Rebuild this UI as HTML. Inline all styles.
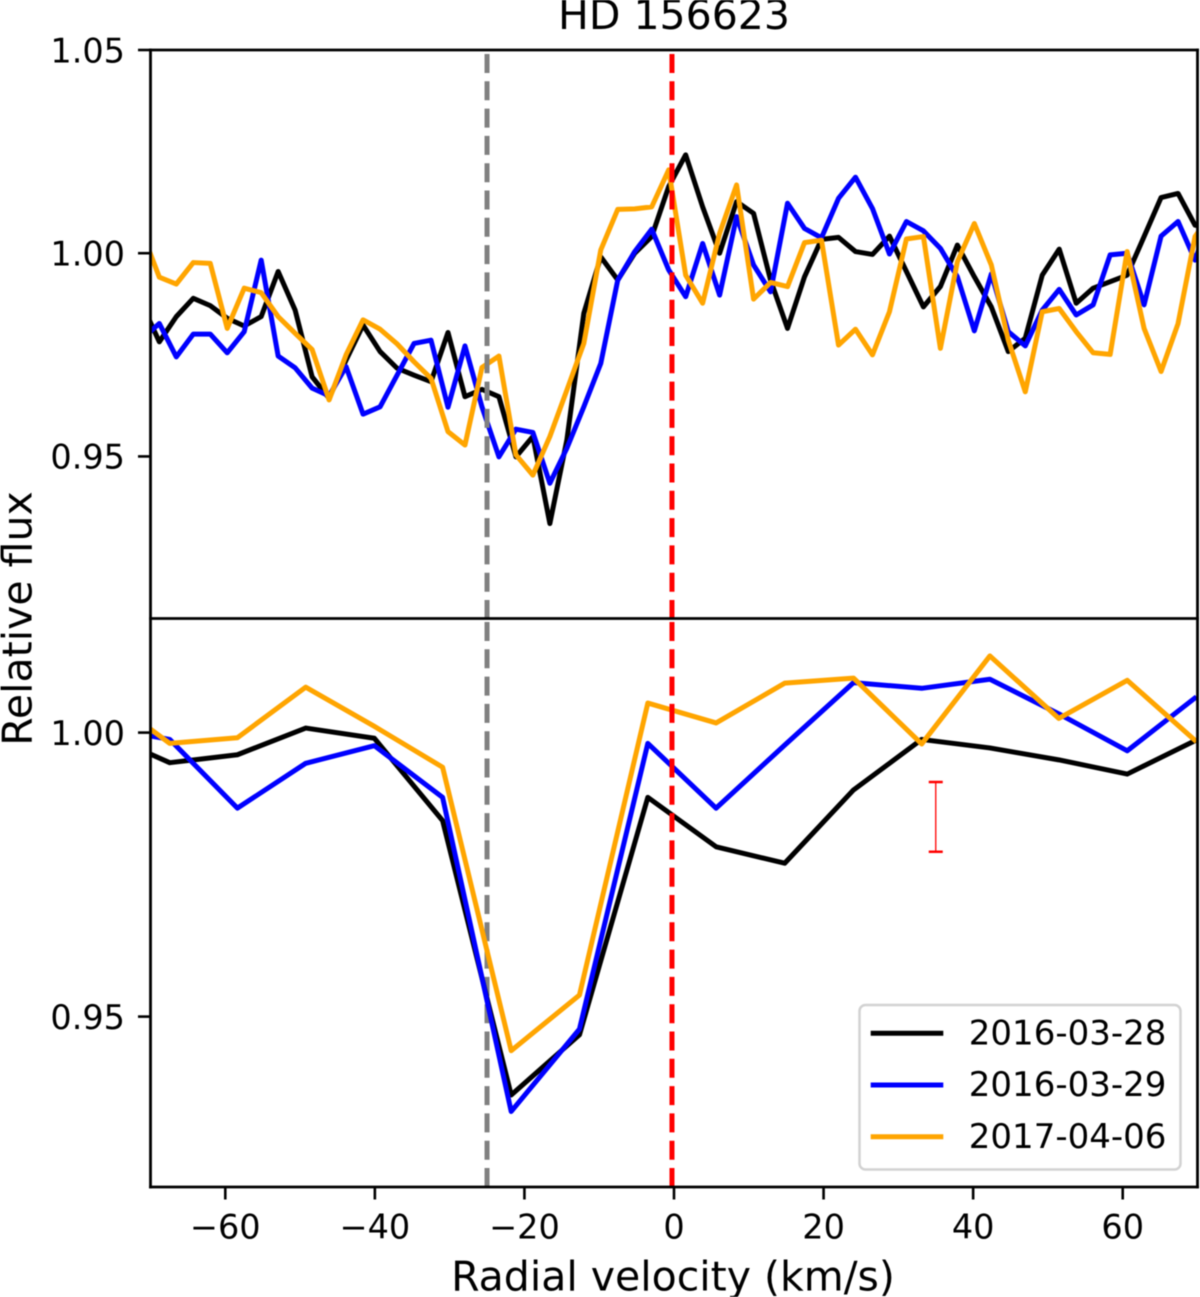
<!DOCTYPE html>
<html lang="en">
<head>
<meta charset="utf-8">
<title>HD 156623 relative flux</title>
<style>
  html, body { margin: 0; padding: 0; background: #fff; }
  svg { display: block; filter: blur(0.55px); }
  text { font-family: "DejaVu Sans", "Liberation Sans", sans-serif; fill: #000; }
  .tick-text { font-size: 33.5px; }
  .axis-text { font-size: 41px; }
  .legend-text { font-size: 34px; }
</style>
</head>
<body>
<svg id="chart" xmlns="http://www.w3.org/2000/svg" width="1200" height="1297" viewBox="0 0 1200 1297">
  <defs>
    <clipPath id="clip-top"><rect x="150.5" y="50" width="1047" height="569"></rect></clipPath>
    <clipPath id="clip-bottom"><rect x="150.5" y="619" width="1047" height="568"></rect></clipPath>
  </defs>
  <rect width="1200" height="1297" fill="#fff"></rect>
  <g id="top-panel" clip-path="url(#clip-top)"></g>
  <g id="bottom-panel" clip-path="url(#clip-bottom)"></g>
  <g id="axes"></g>
  <text class="axis-text" x="674" y="29" text-anchor="middle">HD 156623</text>
  <text class="axis-text" x="673" y="1290.5" text-anchor="middle">Radial velocity (km/s)</text>
  <text class="axis-text" transform="translate(31.5 618.5) rotate(-90)" text-anchor="middle">Relative flux</text>
  <g>
    <rect x="859.5" y="1005" width="321" height="164.5" rx="6" ry="6" fill="#fff" stroke="#d2d2d2" stroke-width="2.5"></rect>
    <line x1="870.7" y1="1033.3" x2="943.3" y2="1033.3" stroke="#000" stroke-width="5"></line>
    <text class="legend-text" x="968.8" y="1044.3">2016-03-28</text>
    <line x1="870.7" y1="1085" x2="943.3" y2="1085" stroke="#00f" stroke-width="5"></line>
    <text class="legend-text" x="968.8" y="1096">2016-03-29</text>
    <line x1="870.7" y1="1136.7" x2="943.3" y2="1136.7" stroke="#ffa500" stroke-width="5"></line>
    <text class="legend-text" x="968.8" y="1147.8">2017-04-06</text>
  </g>
</svg>
<script>
// ---- Top panel data ----
const topVelocity = [-71.09,-68.82,-66.55,-64.28,-62.01,-59.74,-57.47,-55.20,-52.93,-50.66,-48.39,-46.12,-43.85,-41.58,-39.30,-37.03,-34.76,-32.49,-30.22,-27.95,-25.68,-23.41,-21.14,-18.87,-16.60,-14.33,-12.06,-9.79,-7.52,-5.25,-2.98,-0.71,1.56,3.83,6.10,8.37,10.64,12.91,15.18,17.45,19.72,22.00,24.27,26.54,28.81,31.08,33.35,35.62,37.89,40.16,42.43,44.70,46.97,49.24,51.51,53.78,56.05,58.32,60.59,62.86,65.13,67.40,69.67,71.94];
const topBlack = [0.9873,0.9782,0.9844,0.9889,0.9871,0.9840,0.9821,0.9844,0.9955,0.9860,0.9696,0.9643,0.9737,0.9823,0.9758,0.9717,0.9700,0.9684,0.9805,0.9647,0.9665,0.9647,0.9499,0.9549,0.9335,0.9540,0.9852,0.9991,0.9934,1.0000,1.0041,1.0164,1.0242,1.0114,1.0000,1.0127,1.0098,0.9934,0.9815,0.9942,1.0034,1.0039,1.0004,0.9997,1.0042,0.9955,0.9868,0.9918,1.0020,0.9942,0.9868,0.9758,0.9791,0.9946,1.0010,0.9877,0.9914,0.9930,0.9946,1.0041,1.0137,1.0147,1.0069,1.0060];
const topBlue = [0.9790,0.9827,0.9745,0.9801,0.9801,0.9755,0.9807,0.9983,0.9747,0.9718,0.9668,0.9649,0.9721,0.9604,0.9622,0.9700,0.9778,0.9786,0.9621,0.9772,0.9622,0.9499,0.9567,0.9559,0.9434,0.9520,0.9622,0.9729,0.9934,1.0004,1.0059,0.9959,0.9893,1.0024,0.9897,1.0090,0.9971,0.9905,1.0123,1.0061,1.0038,1.0135,1.0187,1.0110,0.9998,1.0078,1.0055,1.0012,0.9942,0.9809,0.9949,0.9807,0.9772,0.9860,0.9911,0.9848,0.9873,0.9996,1.0000,0.9873,1.0042,1.0078,0.9983,1.0100];
const topOrange = [1.0050,0.9941,0.9924,0.9977,0.9975,0.9815,0.9914,0.9903,0.9844,0.9803,0.9763,0.9639,0.9750,0.9836,0.9813,0.9777,0.9733,0.9692,0.9561,0.9528,0.9719,0.9747,0.9504,0.9454,0.9549,0.9663,0.9778,1.0008,1.0108,1.0109,1.0114,1.0205,0.9946,0.9877,1.0049,1.0168,0.9887,0.9928,0.9918,1.0026,1.0032,0.9774,0.9813,0.9750,0.9856,1.0035,1.0041,0.9766,0.9979,1.0073,0.9971,0.9786,0.9659,0.9856,0.9864,0.9807,0.9755,0.9751,1.0004,0.9815,0.9709,0.9827,1.0041,1.0100];

// ---- Bottom panel data ----
const bottomVelocity = [-76.61,-67.43,-58.38,-49.24,-40.07,-30.94,-21.77,-12.64,-3.50,5.63,14.80,24.00,33.12,42.24,51.45,60.61,69.86];
const bottomBlack = [1.0001,0.9947,0.9961,1.0008,0.9990,0.9845,0.9362,0.9468,0.9886,0.9799,0.9770,0.9899,0.9988,0.9973,0.9952,0.9927,0.9987];
const bottomBlue = [1.0010,0.9988,0.9867,0.9946,0.9977,0.9886,0.9333,0.9478,0.9981,0.9867,0.9978,1.0088,1.0078,1.0094,1.0033,0.9968,1.0063];
const bottomOrange = [1.0071,0.9981,0.9991,1.0080,1.0011,0.9939,0.9440,0.9538,1.0052,1.0017,1.0087,1.0096,0.9980,1.0135,1.0025,1.0092,0.9984];

// ---- Reference lines and error bar ----
const grayLineVelocity = -25;
const redLineVelocity = -0.27;
const errorBarVelocity = 35;
const errorBarFlux = 0.98516;
const errorBarHalf = 0.00614;

// ---- Tick labels ----
const xTickValues = [-60,-40,-20,0,20,40,60];
const xTickLabels = ["\u221260","\u221240","\u221220","0","20","40","60"];
const topYTickValues = [1.05,1.00,0.95];
const topYTickLabels = ["1.05","1.00","0.95"];
const bottomYTickValues = [1.00,0.95];
const bottomYTickLabels = ["1.00","0.95"];

// ---- Axis functions ----
const NS = "http://www.w3.org/2000/svg";
const plotLeft = 150.5, plotRight = 1197.5;
const topTop = 50, topBottom = 619, bottomTop = 619, bottomBottom = 1187;
function xScale(v) { return plotLeft + (v + 70) / 140 * (plotRight - plotLeft); }
function yTop(f) { return topTop + (1.05 - f) / 0.14 * (topBottom - topTop); }
function yBottom(f) { return bottomTop + (1.02 - f) / 0.10 * (bottomBottom - bottomTop); }

function make(tag, parent) {
  const el = document.createElementNS(NS, tag);
  parent.appendChild(el);
  return el;
}
function drawSeries(parent, xs, ys, yFn, color) {
  const el = make("polyline", parent);
  el.setAttribute("points", xs.map(function (v, i) { return xScale(v).toFixed(2) + "," + yFn(ys[i]).toFixed(2); }).join(" "));
  el.setAttribute("fill", "none");
  el.setAttribute("stroke", color);
  el.setAttribute("stroke-width", "5");
  el.setAttribute("stroke-linejoin", "round");
  return el;
}
function drawVLine(parent, v, y0, y1, color) {
  const el = make("line", parent);
  el.setAttribute("x1", xScale(v));
  el.setAttribute("x2", xScale(v));
  el.setAttribute("y1", y0);
  el.setAttribute("y2", y1);
  el.setAttribute("stroke", color);
  el.setAttribute("stroke-width", "5");
  el.setAttribute("stroke-dasharray", "19 8.3");
  return el;
}
function drawRule(parent, x1, y1, x2, y2, width) {
  const el = make("line", parent);
  el.setAttribute("x1", x1);
  el.setAttribute("y1", y1);
  el.setAttribute("x2", x2);
  el.setAttribute("y2", y2);
  el.setAttribute("stroke", "#000");
  el.setAttribute("stroke-width", width);
  el.setAttribute("stroke-linecap", "square");
  return el;
}

const topPanel = document.getElementById("top-panel");
const bottomPanel = document.getElementById("bottom-panel");
const axes = document.getElementById("axes");

// Top panel series
let s;
s = drawSeries(topPanel, topVelocity, topBlack, yTop, "#000");


s = drawSeries(topPanel, topVelocity, topBlue, yTop, "#00f");


s = drawSeries(topPanel, topVelocity, topOrange, yTop, "#ffa500");


s = drawVLine(topPanel, grayLineVelocity, topBottom, topTop, "#808080");


s = drawVLine(topPanel, redLineVelocity, topBottom, topTop, "#f00");



// Bottom panel series
s = drawVLine(bottomPanel, grayLineVelocity, bottomBottom, bottomTop, "#808080");


s = drawSeries(bottomPanel, bottomVelocity, bottomBlack, yBottom, "#000");


s = drawSeries(bottomPanel, bottomVelocity, bottomBlue, yBottom, "#00f");


s = drawSeries(bottomPanel, bottomVelocity, bottomOrange, yBottom, "#ffa500");


s = drawVLine(bottomPanel, redLineVelocity, bottomBottom, bottomTop, "#f00");



// Error bar
const errGroup = make("g", bottomPanel);


const errX = xScale(errorBarVelocity);
const errHi = yBottom(errorBarFlux + errorBarHalf);
const errLo = yBottom(errorBarFlux - errorBarHalf);
const errStem = make("line", errGroup);
errStem.setAttribute("x1", errX);
errStem.setAttribute("x2", errX);
errStem.setAttribute("y1", errHi);
errStem.setAttribute("y2", errLo);
errStem.setAttribute("stroke", "#f00");
errStem.setAttribute("stroke-width", "1.3");
[errHi, errLo].forEach(function (y) {
  const cap = make("line", errGroup);
  cap.setAttribute("x1", errX - 7);
  cap.setAttribute("x2", errX + 7);
  cap.setAttribute("y1", y);
  cap.setAttribute("y2", y);
  cap.setAttribute("stroke", "#f00");
  cap.setAttribute("stroke-width", "2.5");
});

// Spines
s = drawRule(axes, plotLeft, topTop, plotRight, topTop, 2.8);


s = drawRule(axes, plotLeft, topBottom - 0.5, plotRight, topBottom - 0.5, 2.8);


s = drawRule(axes, plotLeft, bottomBottom, plotRight, bottomBottom, 2.8);


s = drawRule(axes, plotLeft, topTop, plotLeft, bottomBottom, 2.8);


s = drawRule(axes, plotRight, topTop, plotRight, bottomBottom, 2.8);



// X ticks
xTickValues.forEach(function (v, i) {
  const x = xScale(v);
  const tick = make("line", axes);
  tick.setAttribute("x1", x);
  tick.setAttribute("x2", x);
  tick.setAttribute("y1", bottomBottom);
  tick.setAttribute("y2", bottomBottom + 12.5);
  tick.setAttribute("stroke", "#000");
  tick.setAttribute("stroke-width", "2.6");
  
  
  const label = make("text", axes);
  label.setAttribute("x", x);
  label.setAttribute("y", 1238.5);
  label.setAttribute("text-anchor", "middle");
  label.setAttribute("class", "tick-text");
  
  
  label.textContent = xTickLabels[i];
});

// Y ticks
function drawYTicks(values, labels, yFn) {
  values.forEach(function (v, i) {
    const y = yFn(v);
    const tick = make("line", axes);
    tick.setAttribute("x1", plotLeft - 12.5);
    tick.setAttribute("x2", plotLeft);
    tick.setAttribute("y1", y);
    tick.setAttribute("y2", y);
    tick.setAttribute("stroke", "#000");
    tick.setAttribute("stroke-width", "2.6");
    
    
    const label = make("text", axes);
    label.setAttribute("x", 125);
    label.setAttribute("y", y + 12.3);
    label.setAttribute("text-anchor", "end");
    label.setAttribute("class", "tick-text");
    
    
    label.textContent = labels[i];
  });
}
drawYTicks(topYTickValues, topYTickLabels, yTop);
drawYTicks(bottomYTickValues, bottomYTickLabels, yBottom);
</script>
</body>
</html>
